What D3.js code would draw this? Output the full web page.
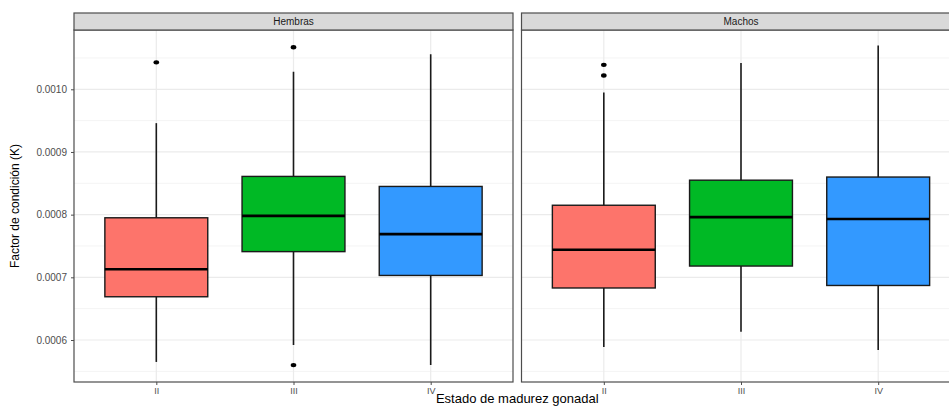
<!DOCTYPE html>
<html>
<head>
<meta charset="utf-8">
<script src="https://cdnjs.cloudflare.com/ajax/libs/d3/7.8.5/d3.min.js"></script>
<style>
  body { margin: 0; background: #fff; }
  svg { display: block; font-family: "Liberation Sans", Arial, sans-serif; }
</style>
</head>
<body>
<div id="chart"></div>
<script>
// data
var categories = ["II", "III", "IV"];
var panels = ["Hembras", "Machos"];
var boxColors = ["#fd746b", "#00b925", "#3399ff"];
var yTicks = [0.0006, 0.0007, 0.0008, 0.0009, 0.0010];
var yMinorTicks = [0.00055, 0.00065, 0.00075, 0.00085, 0.00095, 0.00105];

var hembrasLower = [0.000565, 0.000592, 0.000560];
var hembrasQ1 = [0.000669, 0.000741, 0.000703];
var hembrasMedian = [0.000713, 0.000798, 0.000769];
var hembrasQ3 = [0.000795, 0.000861, 0.000845];
var hembrasUpper = [0.000946, 0.001028, 0.001056];
var hembrasOutliers = [[0.001043], [0.001067, 0.000560], []];

var machosLower = [0.000589, 0.000613, 0.000584];
var machosQ1 = [0.000683, 0.000718, 0.000687];
var machosMedian = [0.000744, 0.000796, 0.000793];
var machosQ3 = [0.000815, 0.000855, 0.000860];
var machosUpper = [0.000995, 0.001042, 0.001070];
var machosOutliers = [[0.001039, 0.001022], [], []];

var panelData = [
    { name: panels[0], lower: hembrasLower, q1: hembrasQ1, median: hembrasMedian, q3: hembrasQ3, upper: hembrasUpper, outliers: hembrasOutliers },
    { name: panels[1], lower: machosLower, q1: machosQ1, median: machosMedian, q3: machosQ3, upper: machosUpper, outliers: machosOutliers }
];

var width = 949, height = 407;
var margin = { top: 30, left: 74, bottom: 25 };
var panelW = 439, panelGap = 8.5, stripH = 17;
var plotBottom = height - margin.bottom;

var svg = d3.select("#chart").append("svg")
    .attr("width", width)
    .attr("height", height);

var y = d3.scaleLinear()
    .domain([0.000533, 0.0010946])
    .range([plotBottom, margin.top]);

var x = d3.scalePoint()
    .domain(categories)
    .range([0, panelW])
    .padding(0.6);

var boxW = x.step() * 0.75;

panelData.forEach(function (p, pi) {
    var left = margin.left + pi * (panelW + panelGap);
    var g = svg.append("g").attr("transform", "translate(" + left + ",0)");

    // minor grid
    g.selectAll(".minor")
        .data(yMinorTicks)
        .enter().append("line")
        .attr("x1", 0).attr("x2", panelW)
        .attr("y1", function (d) { return y(d); })
        .attr("y2", function (d) { return y(d); })
        .attr("stroke", "#f4f4f4")
        .attr("stroke-width", 1);

    // major grid
    g.selectAll(".major")
        .data(yTicks)
        .enter().append("line")
        .attr("x1", 0).attr("x2", panelW)
        .attr("y1", function (d) { return y(d); })
        .attr("y2", function (d) { return y(d); })
        .attr("stroke", "#ebebeb")
        .attr("stroke-width", 1.2);

    g.selectAll(".vgrid")
        .data(categories)
        .enter().append("line")
        .attr("x1", function (d) { return x(d); })
        .attr("x2", function (d) { return x(d); })
        .attr("y1", margin.top).attr("y2", plotBottom)
        .attr("stroke", "#ebebeb")
        .attr("stroke-width", 1.2);

    var boxes = g.selectAll(".box")
        .data(categories)
        .enter().append("g");

    // whiskers
    boxes.append("line")
        .attr("x1", function (d) { return x(d); })
        .attr("x2", function (d) { return x(d); })
        .attr("y1", function (d, i) { return y(p.upper[i]); })
        .attr("y2", function (d, i) { return y(p.lower[i]); })
        .attr("stroke", "#1a1a1a")
        .attr("stroke-width", 1.6);

    boxes.append("rect")
        .attr("x", function (d) { return x(d) - boxW / 2; })
        .attr("y", function (d, i) { return y(p.q3[i]); })
        .attr("width", boxW)
        .attr("height", function (d, i) { return y(p.q1[i]) - y(p.q3[i]); })
        .attr("fill", function (d, i) { return boxColors[i]; })
        .attr("stroke", "#1a1a1a")
        .attr("stroke-width", 1.4);

    boxes.append("line")
        .attr("x1", function (d) { return x(d) - boxW / 2; })
        .attr("x2", function (d) { return x(d) + boxW / 2; })
        .attr("y1", function (d, i) { return y(p.median[i]); })
        .attr("y2", function (d, i) { return y(p.median[i]); })
        .attr("stroke", "#000")
        .attr("stroke-width", 2.6);

    boxes.each(function (d, i) {
        d3.select(this).selectAll("ellipse")
            .data(p.outliers[i])
            .enter().append("ellipse")
            .attr("cx", x(d))
            .attr("cy", function (v) { return y(v); })
            .attr("rx", 2.8)
            .attr("ry", 2.2)
            .attr("fill", "#000");
    });

    // panel border
    g.append("rect")
        .attr("x", 0).attr("y", margin.top)
        .attr("width", panelW).attr("height", plotBottom - margin.top)
        .attr("fill", "none")
        .attr("stroke", "#4d4d4d")
        .attr("stroke-width", 1.2);

    // strip
    g.append("rect")
        .attr("x", 0).attr("y", margin.top - stripH)
        .attr("width", panelW).attr("height", stripH)
        .attr("fill", "#d9d9d9")
        .attr("stroke", "#4d4d4d")
        .attr("stroke-width", 1.2);

    g.append("text")
        .attr("x", panelW / 2)
        .attr("y", margin.top - stripH / 2)
        .attr("dy", "0.35em")
        .attr("text-anchor", "middle")
        .attr("font-size", 10)
        .attr("fill", "#1a1a1a")
        .text(p.name);

    // x axis
    var xa = g.append("g")
        .attr("transform", "translate(0," + plotBottom + ")")
        .call(d3.axisBottom(x).tickSize(3).tickPadding(3));
    xa.select(".domain").remove();
    xa.selectAll(".tick line").attr("stroke", "#4d4d4d");
    xa.selectAll(".tick text")
        .attr("font-size", 9)
        .attr("fill", "#4d4d4d")
        .attr("font-family", "Liberation Sans, Arial, sans-serif");
});

// y axis on the left panel only
var ya = svg.append("g")
    .attr("transform", "translate(" + margin.left + ",0)")
    .call(d3.axisLeft(y).tickValues(yTicks).tickSize(3).tickPadding(4)
        .tickFormat(d3.format(".4f")));
ya.select(".domain").remove();
ya.selectAll(".tick line").attr("stroke", "#4d4d4d");
ya.selectAll(".tick text")
    .attr("font-size", 10)
    .attr("fill", "#4d4d4d")
    .attr("font-family", "Liberation Sans, Arial, sans-serif");

svg.append("text")
    .attr("transform", "translate(19," + ((margin.top + plotBottom) / 2) + ") rotate(-90)")
    .attr("text-anchor", "middle")
    .attr("font-size", 12)
    .attr("fill", "#000")
    .text("Factor de condición (K)");

svg.append("text")
    .attr("x", margin.left + (2 * panelW + panelGap) / 2)
    .attr("y", height - 4)
    .attr("text-anchor", "middle")
    .attr("font-size", 13)
    .attr("fill", "#000")
    .text("Estado de madurez gonadal");
</script>
</body>
</html>
